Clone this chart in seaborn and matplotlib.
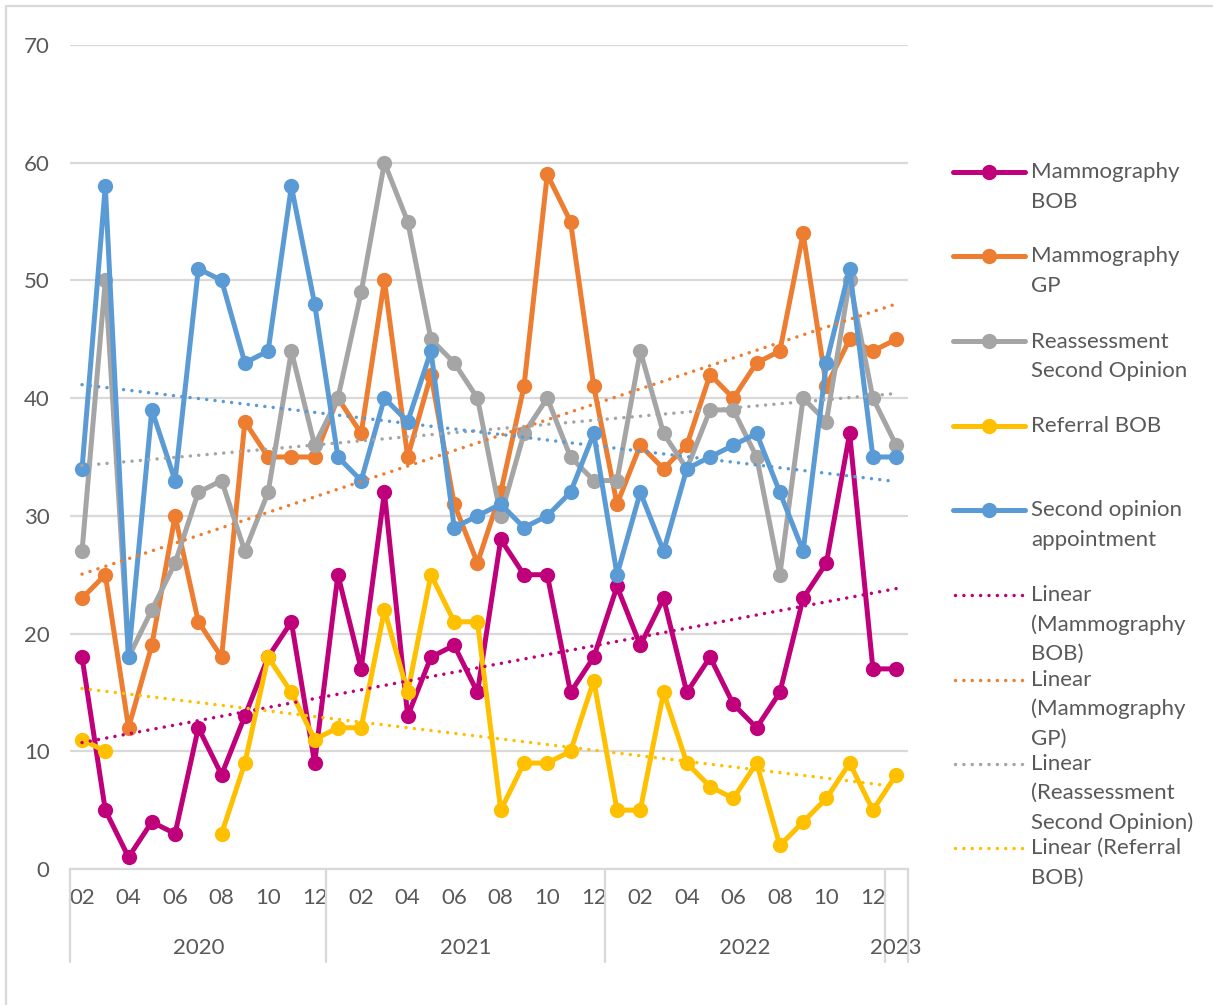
import numpy as np
import pandas as pd
import matplotlib
matplotlib.use("Agg")
import matplotlib.pyplot as plt
from matplotlib.lines import Line2D
import seaborn as sns

# ---- data -------------------------------------------------------------
years = (["2020"] * 11) + (["2021"] * 12) + (["2022"] * 12) + ["2023"]
months = ["02", "03", "04", "05", "06", "07", "08", "09", "10", "11", "12",
          "01", "02", "03", "04", "05", "06", "07", "08", "09", "10", "11", "12",
          "01", "02", "03", "04", "05", "06", "07", "08", "09", "10", "11", "12",
          "01"]

mammography_bob = [18, 5, 1, 4, 3, 12, 8, 13, 18, 21, 9,
                   25, 17, 32, 13, 18, 19, 15, 28, 25, 25, 15, 18,
                   24, 19, 23, 15, 18, 14, 12, 15, 23, 26, 37, 17,
                   17]
mammography_gp = [23, 25, 12, 19, 30, 21, 18, 38, 35, 35, 35,
                  40, 37, 50, 35, 42, 31, 26, 32, 41, 59, 55, 41,
                  31, 36, 34, 36, 42, 40, 43, 44, 54, 41, 45, 44,
                  45]
reassessment_so = [27, 50, 18, 22, 26, 32, 33, 27, 32, 44, 36,
                   40, 49, 60, 55, 45, 43, 40, 30, 37, 40, 35, 33,
                   33, 44, 37, 34, 39, 39, 35, 25, 40, 38, 50, 40,
                   36]
referral_bob = [11, 10, None, None, None, None, 3, 9, 18, 15, 11,
                12, 12, 22, 15, 25, 21, 21, 5, 9, 9, 10, 16,
                5, 5, 15, 9, 7, 6, 9, 2, 4, 6, 9, 5,
                8]
second_opinion = [34, 58, 18, 39, 33, 51, 50, 43, 44, 58, 48,
                  35, 33, 40, 38, 44, 29, 30, 31, 29, 30, 32, 37,
                  25, 32, 27, 34, 35, 36, 37, 32, 27, 43, 51, 35,
                  35]

series_names = ["Mammography\nBOB", "Mammography\nGP",
                "Reassessment\nSecond Opinion", "Referral BOB",
                "Second opinion\nappointment"]
series_values = [mammography_bob, mammography_gp, reassessment_so,
                 referral_bob, second_opinion]
series_colors = ["#C0007A", "#ED7D31", "#A5A5A5", "#FFC000", "#5B9BD5"]
trend_labels = ["Linear\n(Mammography\nBOB)", "Linear\n(Mammography\nGP)",
                "Linear\n(Reassessment\nSecond Opinion)", "Linear (Referral\nBOB)"]

# ---- figure -----------------------------------------------------------
W, H = 1213, 1005
sns.set_theme(style="white")
plt.rcParams["font.family"] = ["Lato", "DejaVu Sans"]
TXT = "#595959"
GRID = "#D9D9D9"
FS = 16
LW = 3.6
MS = 11
TLW = 2.5

fig = plt.figure(figsize=(W / 100, H / 100), dpi=100)
x_left, x_right = 70.4, 907.8
y_top, y_bot = 45, 869
ax = fig.add_axes([x_left / W, 1 - y_bot / H, (x_right - x_left) / W, (y_bot - y_top) / H])

n = len(months)
idx = np.arange(n)

# series lines with markers; a missing month breaks the line
for vals, color, z in zip(series_values, series_colors, range(5)):
    y = np.array([np.nan if v is None else v for v in vals], dtype=float)
    df = pd.DataFrame({"x": idx, "y": y})
    valid = df["y"].notna()
    seg = (valid != valid.shift()).cumsum()
    for _, part in df[valid].groupby(seg[valid]):
        sns.lineplot(data=part, x="x", y="y", ax=ax, color=color, lw=LW,
                     marker="o", markersize=MS, markeredgewidth=0,
                     markeredgecolor=color, legend=False, zorder=3 + z,
                     solid_capstyle="round", solid_joinstyle="round")

# linear trend lines (least squares over the months that have data)
dot_style = (0, (0.01, 2.4))
for vals, color in zip(series_values, series_colors):
    y = np.array([np.nan if v is None else v for v in vals], dtype=float)
    ok = ~np.isnan(y)
    slope, inter = np.polyfit(idx[ok], y[ok], 1)
    tdf = pd.DataFrame({"x": idx, "y": slope * idx + inter})
    sns.lineplot(data=tdf, x="x", y="y", ax=ax, color=color, lw=TLW,
                 linestyle=dot_style, dash_capstyle="round", legend=False, zorder=9)

# ---- axes styling -----------------------------------------------------
ax.set_xlim(-0.5, n - 0.5)
ax.set_ylim(0, 70)
ax.set_yticks(range(0, 71, 10))
ax.yaxis.grid(True, color=GRID, lw=1.6)
ax.set_axisbelow(True)
for s in ["left", "right", "top"]:
    ax.spines[s].set_visible(False)
ax.spines["bottom"].set_color(GRID)
ax.spines["bottom"].set_linewidth(1.6)
ax.set_xlabel("")
ax.set_ylabel("")
ax.tick_params(axis="y", length=0, pad=15, labelsize=FS, labelcolor=TXT)

tick_pos = idx[::2]
ax.set_xticks(tick_pos)
ax.set_xticklabels([months[i] for i in tick_pos])
ax.tick_params(axis="x", length=0, pad=13.5, labelsize=FS, labelcolor=TXT)

# year row and category separators below the axis
ph = y_bot - y_top
xt = ax.get_xaxis_transform()
bounds = [-0.5]
for i in range(1, n):
    if years[i] != years[i - 1]:
        bounds.append(i - 0.5)
bounds.append(n - 0.5)
for b in bounds:
    ax.plot([b, b], [0, -(962 - y_bot) / ph], transform=xt, color=GRID,
            lw=1.6, clip_on=False)
for a, b in zip(bounds[:-1], bounds[1:]):
    label = years[int(a + 0.5)]
    ax.text((a + b) / 2, -(948 - y_bot) / ph, label, transform=xt,
            ha="center", va="center", fontsize=FS, color=TXT)

# ---- legend -----------------------------------------------------------
def fx(px):
    return px / W


def fy(py):
    return 1 - py / H


line_step = 29.5
solid_rows = [172.5, 256.5, 341.5, 425.5, 510]
for name, color, yr in zip(series_names, series_colors, solid_rows):
    fig.add_artist(Line2D([fx(953), fx(1025)], [fy(yr), fy(yr)], color=color,
                          lw=LW, solid_capstyle="round"))
    fig.add_artist(Line2D([fx(989)], [fy(yr)], color=color, marker="o",
                          markersize=MS, markeredgewidth=0, lw=0))
    for k, line in enumerate(name.split("\n")):
        fig.text(fx(1031), fy(yr + k * line_step), line, ha="left", va="center",
                 fontsize=FS, color=TXT)

trend_rows = [595, 679.5, 763.5, 848]
for name, color, yr in zip(trend_labels, series_colors, trend_rows):
    fig.add_artist(Line2D([fx(955), fx(1023)], [fy(yr), fy(yr)], color=color,
                          lw=TLW, linestyle=dot_style, dash_capstyle="round"))
    for k, line in enumerate(name.split("\n")):
        fig.text(fx(1031), fy(yr + k * line_step), line, ha="left", va="center",
                 fontsize=FS, color=TXT)

# chart frame
fig.add_artist(Line2D([fx(6), fx(6)], [0, fy(6)], color=GRID, lw=1.6))
fig.add_artist(Line2D([fx(6), 1], [fy(6), fy(6)], color=GRID, lw=1.6))

fig.savefig("out.png", dpi=100, facecolor="white")
